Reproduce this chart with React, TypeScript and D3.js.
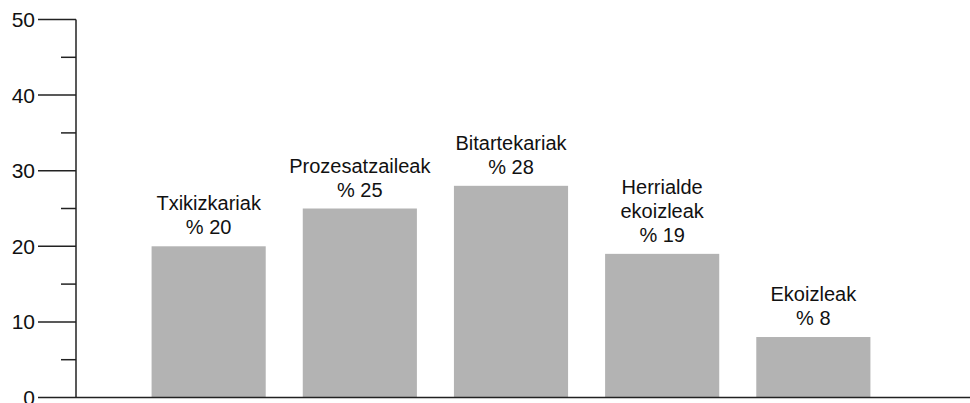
// Bar chart of shares (%) by chain actor, drawn with d3 scales
import React, { useEffect, useRef } from "react";
import * as d3 from "d3";

const categories = [
  ["Txikizkariak"],
  ["Prozesatzaileak"],
  ["Bitartekariak"],
  ["Herrialde", "ekoizleak"],
  ["Ekoizleak"],
];
const shares = [20, 25, 28, 19, 8];
const majorTicks = [0, 10, 20, 30, 40, 50];
const minorTicks = [5, 15, 25, 35, 45];

export default function App() {
  const ref = useRef<SVGSVGElement>(null);

  useEffect(() => {
    const width = 970;
    const height = 403;
    const axisX = 76;
    const baseY = 397.5;
    const svg = d3.select(ref.current);
    svg.selectAll("*").remove();

    const y = d3.scaleLinear().domain([0, 50]).range([baseY, 19.5]);
    const x = d3
      .scaleBand<number>()
      .domain(d3.range(shares.length))
      .range([axisX, 946])
      .paddingInner(0.245)
      .paddingOuter(0.5);

    //bars
    svg
      .append("g")
      .selectAll("rect")
      .data(shares)
      .enter()
      .append("rect")
      .attr("x", (_, i) => x(i)!)
      .attr("y", (d) => y(d))
      .attr("width", x.bandwidth())
      .attr("height", (d) => baseY - y(d))
      .attr("fill", "#b3b3b3");

    //labels above each bar
    const lineH = 24;
    shares.forEach((v, i) => {
      const lines = [...categories[i], "% " + v];
      const cx = x(i)! + x.bandwidth() / 2;
      const t = svg
        .append("text")
        .attr("text-anchor", "middle")
        .attr("font-family", "Liberation Sans, Arial, sans-serif")
        .attr("font-size", 20)
        .attr("fill", "#111");
      lines.forEach((l, k) => {
        t.append("tspan")
          .attr("x", cx)
          .attr("y", y(v) - 12 - (lines.length - 1 - k) * lineH)
          .text(l);
      });
    });

    //y axis
    const axis = svg.append("g").attr("stroke", "#222").attr("stroke-width", 1.5);
    axis
      .append("line")
      .attr("x1", axisX)
      .attr("x2", axisX)
      .attr("y1", y(50))
      .attr("y2", baseY);
    axis
      .selectAll(".major")
      .data(majorTicks)
      .enter()
      .append("line")
      .attr("x1", 38)
      .attr("x2", axisX)
      .attr("y1", (d) => y(d))
      .attr("y2", (d) => y(d));
    axis
      .selectAll(".minor")
      .data(minorTicks)
      .enter()
      .append("line")
      .attr("x1", 61)
      .attr("x2", axisX)
      .attr("y1", (d) => y(d))
      .attr("y2", (d) => y(d));
    //x axis line
    axis
      .append("line")
      .attr("x1", axisX)
      .attr("x2", width)
      .attr("y1", baseY)
      .attr("y2", baseY);

    svg
      .append("g")
      .selectAll("text")
      .data(majorTicks)
      .enter()
      .append("text")
      .attr("x", 35)
      .attr("y", (d) => y(d))
      .attr("dy", "0.36em")
      .attr("text-anchor", "end")
      .attr("font-family", "Liberation Sans, Arial, sans-serif")
      .attr("font-size", 21)
      .attr("fill", "#111")
      .text((d) => d);

    svg.attr("width", width).attr("height", height);
  }, []);

  return (
    <div style={{ position: "absolute", left: 0, top: 0 }}>
      <svg ref={ref} style={{ display: "block" }} />
    </div>
  );
}
